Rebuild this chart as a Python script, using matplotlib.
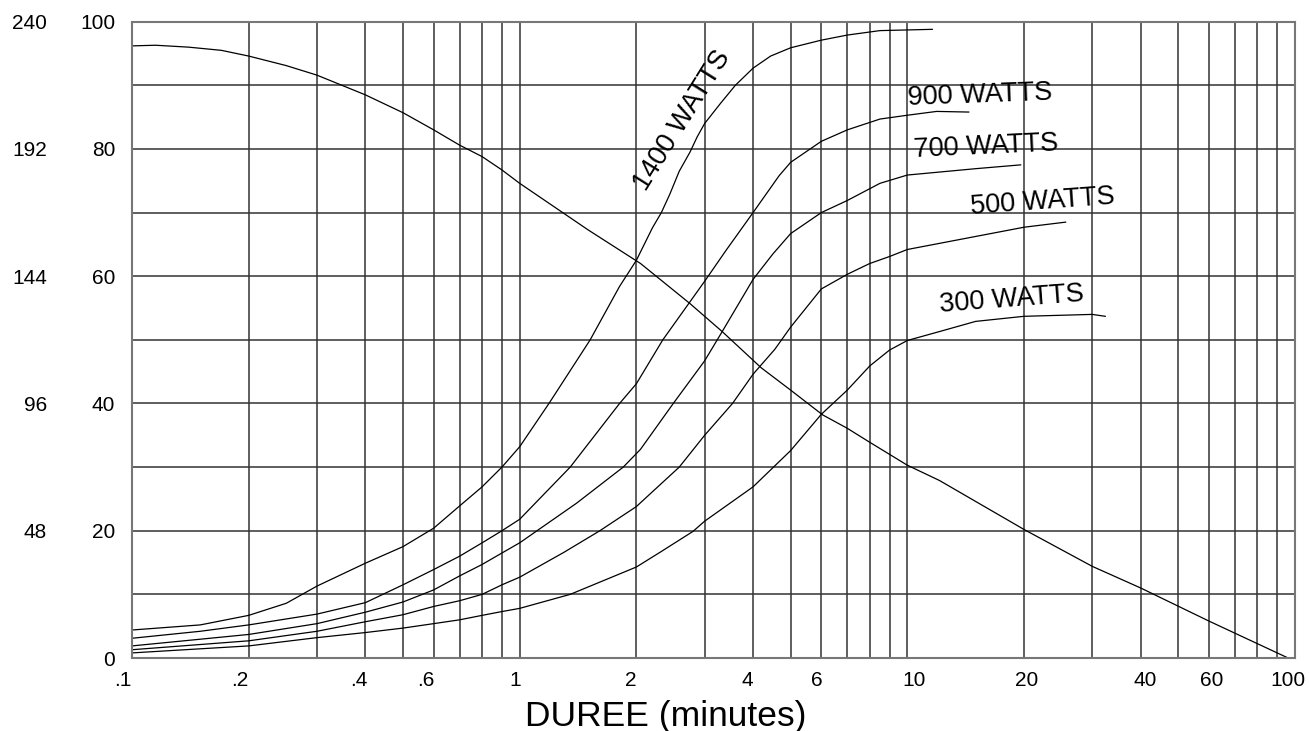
import matplotlib
matplotlib.use("Agg")
import matplotlib.pyplot as plt
import matplotlib.transforms as mtransforms

plt.rcParams['font.family'] = ['Liberation Sans', 'DejaVu Sans']

# ---------------- data ----------------
temp_x = [0.1, 0.115, 0.14, 0.17, 0.2, 0.25, 0.3, 0.4, 0.5, 0.6, 0.7, 0.8, 0.9, 1, 1.5, 2.05, 2.75, 3.33, 4.2, 5, 6.05, 7, 8, 10, 12.1, 20, 30, 40, 60, 96]
temp_y = [96.2, 96.3, 96.0, 95.5, 94.6, 93.1, 91.6, 88.5, 85.7, 83.0, 80.6, 78.8, 76.7, 74.6, 67.3, 62.0, 55.7, 51.3, 45.6, 42.1, 38.2, 36.1, 33.9, 30.3, 27.9, 20.2, 14.4, 11.0, 5.8, 0]

w1400_x = [0.1, 0.15, 0.2, 0.25, 0.3, 0.4, 0.5, 0.6, 0.7, 0.8, 0.9, 1, 1.19, 1.52, 1.81, 2, 2.2, 2.32, 2.44, 2.58, 2.75, 2.87, 3, 3.3, 3.6, 4, 4.44, 5, 6, 7, 8.5, 11.6]
w1400_y = [4.4, 5.2, 6.7, 8.6, 11.3, 14.9, 17.5, 20.4, 23.9, 26.9, 30.0, 33.2, 40, 50, 58.4, 62.5, 67.6, 70, 72.9, 76.5, 79.5, 81.9, 84.0, 87.2, 90, 92.7, 94.6, 95.9, 97.1, 97.9, 98.6, 98.8]

w900_x = [0.1, 0.15, 0.2, 0.3, 0.4, 0.5, 0.6, 0.7, 0.8, 0.9, 1, 1.35, 1.81, 2, 2.34, 3, 3.41, 4, 4.67, 5, 6, 7, 8.5, 10, 11.9, 14.4]
w900_y = [3.1, 4.2, 5.2, 6.9, 8.7, 11.5, 13.9, 16.0, 18.1, 20.0, 21.8, 30, 40, 43.1, 50, 59.2, 64.1, 70, 75.8, 77.9, 81.2, 83.0, 84.7, 85.3, 85.9, 85.8]

w700_x = [0.1, 0.2, 0.3, 0.4, 0.5, 0.6, 0.7, 0.8, 0.9, 1, 1.4, 1.85, 2.05, 2.49, 3, 3.33, 4, 4.5, 5, 6, 7, 8.5, 10, 15, 19.6]
w700_y = [1.9, 3.7, 5.4, 7.2, 8.8, 10.7, 12.9, 14.7, 16.5, 18.1, 24.3, 30, 32.8, 40, 46.7, 51.3, 59.5, 63.5, 66.7, 70, 71.9, 74.6, 75.9, 76.9, 77.5]

w500_x = [0.1, 0.2, 0.3, 0.4, 0.5, 0.6, 0.7, 0.8, 0.9, 1, 1.3, 1.61, 2, 2.58, 3, 3.54, 4, 4.55, 5, 6, 7, 8, 9, 10, 20, 25.6]
w500_y = [1.3, 2.7, 4.2, 5.7, 6.8, 8.1, 9.0, 10.0, 11.5, 12.7, 16.6, 20, 23.8, 30, 35.0, 40, 44.6, 48.5, 52.0, 58.0, 60.3, 62.0, 63.1, 64.2, 67.7, 68.5]

w300_x = [0.1, 0.2, 0.3, 0.4, 0.5, 0.6, 0.7, 0.8, 0.9, 1, 1.35, 2, 2.3, 2.8, 3, 4, 5, 6, 7, 8, 9, 10, 12.1, 15, 20, 30, 32.4]
w300_y = [0.8, 1.9, 3.2, 4.0, 4.7, 5.4, 6.0, 6.7, 7.3, 7.8, 10, 14.3, 16.6, 19.9, 21.5, 26.9, 32.6, 38.3, 42.1, 45.9, 48.4, 49.9, 51.3, 52.9, 53.7, 54.0, 53.7]

curve_labels = ["1400 WATTS", "900 WATTS", "700 WATTS", "500 WATTS", "300 WATTS"]
label_x = [2.63, 15.4, 15.95, 22.3, 18.6]
label_y = [84.5, 88.5, 80.3, 71.7, 56.4]
label_rot = [58, 2.1, 2.6, 4.1, 4.4]

xtick_vals = [0.1, 0.2, 0.4, 0.6, 1, 2, 4, 6, 10, 20, 40, 60, 100]
xtick_text = [".1", ".2", ".4", ".6", "1", "2", "4", "6", "10", "20", "40", "60", "100"]
xtick_dx_px = [-9, -9, -7, -8, -4, -6, -6, -5, 7, 3, 4, 3, -7]
xgrid_minor = [0.3, 0.5, 0.7, 0.8, 0.9, 3, 5, 7, 8, 9, 30, 50, 70, 80, 90]
ytick_vals = [0, 20, 40, 60, 80, 100]
ygrid_minor = [10, 30, 50, 70, 90]
outer_ticks = [48, 96, 144, 192, 240]
xlabel_text = "DUREE (minutes)"

# ---------------- figure ----------------
W, H = 1309, 731
fig = plt.figure(figsize=(W / 100, H / 100), dpi=100)
ax = fig.add_axes([132 / W, 1 - 658 / H, (1295 - 132) / W, (658 - 21.7) / H])
ax.set_xscale('log')
ax.set_xlim(0.1, 100)
ax.set_ylim(0, 100)

gcol = '#333333'
ax.set_xticks(xtick_vals)
ax.set_xticklabels(xtick_text)
ax.set_xticks(xgrid_minor, minor=True)
ax.xaxis.set_minor_formatter(matplotlib.ticker.NullFormatter())
ax.set_yticks(ytick_vals)
ax.set_yticklabels([str(v) for v in ytick_vals])
ax.set_yticks(ygrid_minor, minor=True)
ax.grid(which='both', color=gcol, lw=1.1)
ax.set_axisbelow(True)
ax.tick_params(which='both', length=0)
ax.tick_params(axis='x', pad=9, labelsize=15)
ax.tick_params(axis='y', pad=12, labelsize=15)
for sp in ax.spines.values():
    sp.set_color('#777777')
    sp.set_linewidth(1.5)

for lbl, dx in zip(ax.get_xticklabels(), xtick_dx_px):
    lbl.set_transform(lbl.get_transform() + mtransforms.ScaledTranslation(dx / 100, 0, fig.dpi_scale_trans))

sec = ax.secondary_yaxis(-0.073, functions=(lambda v: v * 2.4, lambda v: v / 2.4))
sec.set_yticks(outer_ticks)
sec.set_yticklabels([str(v) for v in outer_ticks])
sec.tick_params(length=0, pad=0, labelsize=15)
sec.spines['left'].set_visible(False)

for xs, ys in [(temp_x, temp_y), (w1400_x, w1400_y), (w900_x, w900_y),
               (w700_x, w700_y), (w500_x, w500_y), (w300_x, w300_y)]:
    ax.plot(xs, ys, color='black', lw=0.9, clip_on=False, solid_joinstyle='round')

for t, lx, ly, r in zip(curve_labels, label_x, label_y, label_rot):
    ax.text(lx, ly, t, rotation=r, rotation_mode='anchor', ha='center', va='center',
            fontsize=19.5, color='black')

fig.text(666 / W, 1 - 726 / H, xlabel_text, ha='center', va='baseline', fontsize=25.5)

fig.savefig('out.png', dpi=100)
